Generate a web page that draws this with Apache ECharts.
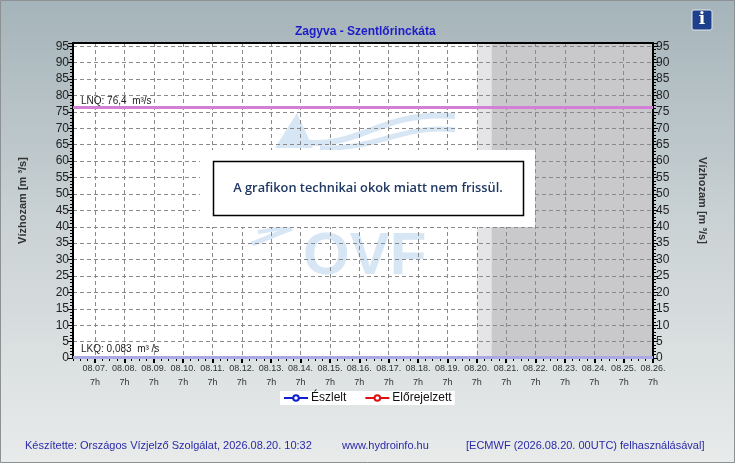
<!DOCTYPE html>
<html>
<head>
<meta charset="utf-8">
<script src="https://cdn.jsdelivr.net/npm/echarts@6/dist/echarts.min.js"></script>
<style>
  html, body { margin: 0; padding: 0; }
  #main { width: 735px; height: 463px; }
</style>
</head>
<body>
<div id="main"></div>
<script>
// napi címkék (08.07. 7h ... 08.26. 7h)
var days = ['06', '07', '08', '09', '10', '11', '12', '13', '14', '15', '16',
            '17', '18', '19', '20', '21', '22', '23', '24', '25', '26']
var hours = [1, 7, 13, 19]
var firstSlot = '08.06. 13h'
var lastSlot = '08.26. 7h'

// küszöbértékek
var lnq = 76.4
var lkq = 0.083

// előrejelzési sávok
var nowSlot = '08.20. 7h'
var forecastSlot = '08.20. 19h'

// mért / előrejelzett adatok (nincs friss adat)
var observed = []
var forecast = []

// 6 órás osztások
var slots = []
var started = false
for (var d = 0; d < days.length; d++) {
  for (var h = 0; h < hours.length; h++) {
    var s = '08.' + days[d] + '. ' + hours[h] + 'h'
    if (s == firstSlot) started = true
    if (started) slots.push(s)
    if (s == lastSlot) started = false
  }
}

function isMajor(i, v) {
  return / 7h$/.test(v)
}

var gridColor = '#8a8a8a'
var myChart = echarts.init(document.getElementById('main'))
var option = {
  animation: false,
  backgroundColor: {
    type: 'linear', x: 0, y: 0, x2: 0, y2: 1,
    colorStops: [{offset: 0, color: '#a5b4ba'}, {offset: 0.5, color: '#cbd3d5'}, {offset: 1, color: '#e9ebeb'}]
  },
  title: {
    text: 'Zagyva - Szentlőrinckáta',
    left: 290,
    top: 21,
    textStyle: {color: '#1c1cc8', fontSize: 12, fontWeight: 'bold', fontFamily: 'Liberation Sans'}
  },
  legend: {
    data: ['Észlelt', 'Előrejelzett'],
    left: 280,
    top: 391,
    backgroundColor: '#fff',
    padding: [1, 3, 1, 3],
    itemWidth: 24,
    itemHeight: 7,
    itemGap: 18,
    textStyle: {color: '#111', fontSize: 12, fontFamily: 'Liberation Sans', padding: [0, 0, 0, -2]}
  },
  grid: {
    left: 73, right: 82, top: 43, bottom: 105,
    show: true, z: -3,
    backgroundColor: '#fff',
    borderWidth: 0
  },
  xAxis: [{
    type: 'category',
    data: slots,
    boundaryGap: false,
    axisLine: {show: false},
    axisTick: {show: true, interval: 0, length: 3, lineStyle: {color: '#000'}},
    axisLabel: {show: false},
    splitLine: {show: false}
  }, {
    type: 'category',
    data: slots,
    boundaryGap: false,
    position: 'bottom',
    axisLine: {show: false},
    axisTick: {show: true, interval: isMajor, length: 5, lineStyle: {color: '#000', width: 2}},
    axisLabel: {
      interval: isMajor,
      color: '#333',
      fontSize: 9,
      fontFamily: 'Liberation Sans',
      lineHeight: 14,
      margin: 4,
      formatter: function (v) {
        var p = v.split(' ')
        return p[0] + '\n' + p[1]
      }
    },
    splitLine: {show: true, interval: isMajor, lineStyle: {color: gridColor, type: [4, 3]}}
  }, {
    type: 'category',
    data: slots,
    boundaryGap: false,
    position: 'top',
    axisLine: {show: true, lineStyle: {color: '#000', width: 2}},
    axisTick: {show: false},
    axisLabel: {show: false},
    splitLine: {show: false}
  }],
  yAxis: [{
    type: 'value',
    min: 0, max: 96, interval: 5,
    position: 'left',
    name: 'Vízhozam [m ³/s]',
    nameLocation: 'middle',
    nameGap: 45,
    nameTextStyle: {color: '#333', fontSize: 11, fontWeight: 'bold', fontFamily: 'Liberation Sans'},
    axisLine: {show: true, lineStyle: {color: '#000', width: 2}},
    axisTick: {show: true, length: 5, lineStyle: {color: '#000'}},
    minorTick: {show: true, splitNumber: 5, length: 3, lineStyle: {color: '#000'}},
    axisLabel: {color: '#222', fontSize: 12, fontFamily: 'Liberation Sans', margin: 4, showMaxLabel: false},
    splitLine: {show: true, lineStyle: {color: gridColor, type: [4, 3]}}
  }, {
    type: 'value',
    min: 0, max: 96, interval: 5,
    position: 'right',
    name: 'Vízhozam [m ³/s]',
    nameLocation: 'middle',
    nameGap: 44,
    nameRotate: -90,
    nameTextStyle: {color: '#333', fontSize: 11, fontWeight: 'bold', fontFamily: 'Liberation Sans'},
    axisLine: {show: true, lineStyle: {color: '#000', width: 2}},
    axisTick: {show: true, length: 5, lineStyle: {color: '#000'}},
    minorTick: {show: true, splitNumber: 5, length: 3, lineStyle: {color: '#000'}},
    axisLabel: {color: '#222', fontSize: 12, fontFamily: 'Liberation Sans', margin: 3, showMaxLabel: false},
    splitLine: {show: false}
  }],
  graphic: [
    // OVF vízjel
    {type: 'polygon', z: -2, shape: {points: [[297, 113], [275, 148], [313, 148]]}, style: {fill: '#d7e6f4'}},
    {type: 'bezierCurve', z: -2, shape: {x1: 300, y1: 142, x2: 455, y2: 116, cpx1: 360, cpy1: 150, cpx2: 380, cpy2: 110},
      style: {stroke: '#d7e6f4', lineWidth: 6, fill: null}},
    {type: 'bezierCurve', z: -2, shape: {x1: 320, y1: 148, x2: 455, y2: 130, cpx1: 380, cpy1: 150, cpx2: 400, cpy2: 124},
      style: {stroke: '#d7e6f4', lineWidth: 5, fill: null}},
    {type: 'line', z: -2, shape: {x1: 252, y1: 244, x2: 292, y2: 228}, style: {stroke: '#d7e6f4', lineWidth: 5}},
    {type: 'line', z: -2, shape: {x1: 258, y1: 232, x2: 290, y2: 227}, style: {stroke: '#d7e6f4', lineWidth: 4}},
    {type: 'text', z: -2, left: 303, top: 227,
      style: {text: 'OVF', fill: '#d7e6f4', font: 'bold 60px "Liberation Sans"'}},
    // üzenet
    {type: 'rect', z: 10, shape: {x: 200, y: 150, width: 335, height: 77}, style: {fill: '#fff'}},
    {type: 'rect', z: 10, shape: {x: 213.5, y: 161.5, width: 310, height: 54}, style: {fill: '#fff', stroke: '#000', lineWidth: 1.5}},
    {type: 'text', z: 11, x: 368, y: 188,
      style: {text: 'A grafikon technikai okok miatt nem frissül.', fill: '#1f3864', align: 'center', verticalAlign: 'middle',
        font: '600 12.8px "Open Sans"'}},
    // info ikon
    {type: 'rect', z: 10, shape: {x: 692, y: 10, width: 20, height: 20, r: 2}, style: {fill: '#1e3f8a', stroke: '#dfe6ee', lineWidth: 1}},
    {type: 'text', z: 11, x: 702, y: 20,
      style: {text: 'i', fill: '#fff', align: 'center', verticalAlign: 'middle', font: 'bold 17px "DejaVu Serif"'}},
    // lábléc
    {type: 'text', left: 25, top: 440,
      style: {text: 'Készítette: Országos Vízjelző Szolgálat, 2026.08.20. 10:32', fill: '#2a2aa8', font: '11px "Liberation Sans"'}},
    {type: 'text', left: 342, top: 440,
      style: {text: 'www.hydroinfo.hu', fill: '#2a2aa8', font: '11px "Liberation Sans"'}},
    {type: 'text', left: 466, top: 440,
      style: {text: '[ECMWF (2026.08.20. 00UTC) felhasználásával]', fill: '#2a2aa8', font: '11px "Liberation Sans"'}},
    // keret
    {type: 'rect', shape: {x: 0.5, y: 0.5, width: 734, height: 462}, style: {fill: null, stroke: '#8c9294', lineWidth: 1}}
  ],
  series: [{
    name: 'sávok',
    type: 'line',
    z: -1,
    data: [],
    markArea: {
      silent: true,
      z: -1,
      data: [
        [{xAxis: nowSlot, itemStyle: {color: '#e5e5e7'}}, {xAxis: forecastSlot}],
        [{xAxis: forecastSlot, itemStyle: {color: '#c9c9cc'}}, {xAxis: lastSlot}]
      ]
    }
  }, {
    name: 'Észlelt',
    type: 'line',
    data: observed,
    color: '#1020d0',
    symbol: 'emptyCircle',
    symbolSize: 6,
    lineStyle: {width: 3},
    markLine: {
      silent: true,
      symbol: 'none',
      data: [{
        yAxis: lnq,
        lineStyle: {color: '#d27fd6', width: 3, type: 'solid'},
        label: {position: 'insideStartTop', formatter: 'LNQ: 76,4  m³/s', color: '#222', fontSize: 10, fontFamily: 'Liberation Sans', distance: [8, 1]}
      }, {
        yAxis: lkq,
        lineStyle: {color: '#a9a9e6', width: 3, type: 'solid'},
        label: {position: 'insideStartTop', formatter: 'LKQ: 0,083  m³ /s', color: '#222', fontSize: 10, fontFamily: 'Liberation Sans', distance: [8, 3]}
      }]
    }
  }, {
    name: 'Előrejelzett',
    type: 'line',
    data: forecast,
    color: '#e01010',
    symbol: 'emptyCircle',
    symbolSize: 6,
    lineStyle: {width: 3}
  }]
}
myChart.setOption(option)
</script>
</body>
</html>
